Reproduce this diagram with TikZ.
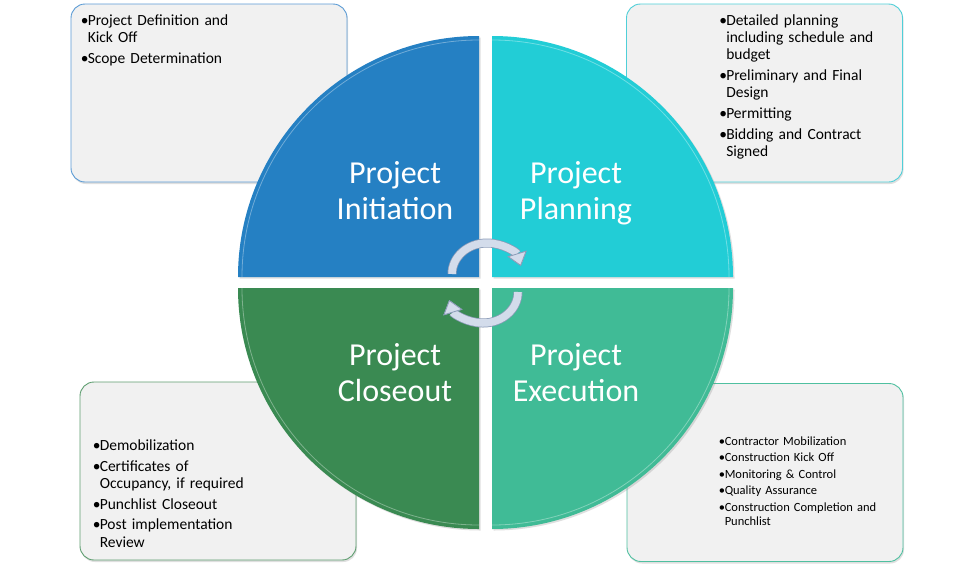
\documentclass[tikz,border=0pt]{standalone}
\usepackage{fontspec}
\setmainfont{Carlito}
\usepackage{tikz}
\usetikzlibrary{positioning,calc,arrows.meta,shadows}
\tikzset{>=stealth}

\definecolor{initblue}{HTML}{2580C3}
\definecolor{planteal}{HTML}{22CDD6}
\definecolor{closegreen}{HTML}{3A8A52}
\definecolor{execgreen}{HTML}{40BB96}
\definecolor{initedge}{HTML}{5B9BD5}
\definecolor{planedge}{HTML}{4FCFD8}
\definecolor{closeedge}{HTML}{5E9E70}
\definecolor{execedge}{HTML}{4FC0A0}
\definecolor{boxgray}{HTML}{F1F1F1}
\definecolor{arrowlight}{HTML}{D3DCEB}
\definecolor{arrowdark}{HTML}{8C9CB8}

\newcommand{\lstitem}[2][7pt]{\hangindent=#1\hangafter=1\noindent\makebox[#1][l]{\textbullet}#2\par}

\tikzset{
  listbox/.style={rounded corners=14pt,fill=boxgray,line width=.9pt,minimum width=276pt,minimum height=178pt,inner sep=0pt,drop shadow={opacity=.25,shadow xshift=1pt,shadow yshift=-2pt}},
  quarter/.style={drop shadow={opacity=.25,shadow xshift=1.5pt,shadow yshift=-1.5pt}},
  bevel/.style={white,opacity=.35,line width=.8pt},
  phase/.style={text=white,font=\fontsize{32}{36}\selectfont,text width=170pt,align=center,inner sep=0pt,anchor=base},
  tasks/.style={font=\fontsize{15.5}{17.2}\selectfont,text width=250pt,align=left,inner sep=0pt,execute at begin node=\setlength{\parskip}{3.5pt}},
  smalltasks/.style={tasks,font=\fontsize{12.5}{14}\selectfont,execute at begin node=\setlength{\parskip}{2.5pt}},
  cyclearrow/.style={line width=7.5pt,draw=arrowlight,preaction={draw=arrowdark,line width=9pt},-{Triangle[length=13pt,width=20pt,color=arrowdark,fill=arrowlight,line width=.8pt]}}
}

\begin{document}
\begin{tikzpicture}[x=1pt,y=1pt]
\path[use as bounding box,fill=white] (0,0) rectangle (971,-568);

\node[listbox,draw=initedge] (initbox) at (209,-93) {};
\node[listbox,draw=planedge] (planbox) at (764.5,-93) {};
\node[listbox,draw=closeedge] (closebox) at (218,-471) {};
\node[listbox,draw=execedge] (execbox) at (765,-472.5) {};

\node[tasks,below right=22pt and 10pt of initbox.north west,anchor=base west] (initlist)
  {\lstitem{Project Definition and\newline Kick Off}\lstitem{Scope Determination}};
\node[tasks,below right=22pt and 93pt of planbox.north west,anchor=base west] (planlist)
  {\lstitem{Detailed planning\newline including schedule and\newline budget}\lstitem{Preliminary and Final\newline Design}\lstitem{Permitting}\lstitem{Bidding and Contract\newline Signed}};
\node[tasks,below right=69pt and 13pt of closebox.north west,anchor=base west] (closelist)
  {\lstitem{Demobilization}\lstitem{Certificates of\newline Occupancy, if required}\lstitem{Punchlist Closeout}\lstitem{Post implementation\newline Review}};
\node[smalltasks,below right=62pt and 92pt of execbox.north west,anchor=base west] (execlist)
  {\lstitem[6pt]{Contractor Mobilization}\lstitem[6pt]{Construction Kick Off}\lstitem[6pt]{Monitoring \& Control}\lstitem[6pt]{Quality Assurance}\lstitem[6pt]{Construction Completion and\newline Punchlist}};

\coordinate (initC) at (479,-277);
\coordinate (planC) at (492,-277);
\coordinate (closeC) at (479,-288);
\coordinate (execC) at (492,-288);
\fill[initblue,quarter] (initC) -- ++(-241,0) arc[start angle=180,end angle=90,radius=241pt] -- cycle;
\fill[planteal,quarter] (planC) -- ++(0,241) arc[start angle=90,end angle=0,radius=241pt] -- cycle;
\fill[closegreen,quarter] (closeC) -- ++(-241,0) arc[start angle=180,end angle=270,radius=241pt] -- cycle;
\fill[execgreen,quarter] (execC) -- ++(241,0) arc[start angle=0,end angle=-90,radius=241pt] -- cycle;
\draw[bevel] ($(initC)+(-237,0)$) arc[start angle=180,end angle=90,radius=237pt];
\draw[bevel] ($(planC)+(0,237)$) arc[start angle=90,end angle=0,radius=237pt];
\draw[bevel] ($(closeC)+(-237,0)$) arc[start angle=180,end angle=270,radius=237pt];
\draw[bevel] ($(execC)+(237,0)$) arc[start angle=0,end angle=-90,radius=237pt];

\node[phase] (init) at (395,-183) {Project\\Initiation};
\node[phase] (plan) at (576,-183) {Project\\Planning};
\node[phase] (close) at (395,-365) {Project\\Closeout};
\node[phase] (exec) at (576,-365) {Project\\Execution};

\coordinate (turnA) at (487,-274);
\coordinate (turnB) at (483,-292);
\draw[cyclearrow] ($(turnA)+(-35,0)$) arc[start angle=180,end angle=15,x radius=35pt,y radius=31pt];
\draw[cyclearrow] ($(turnB)+(35,0)$) arc[start angle=0,end angle=-165,x radius=35pt,y radius=31pt];
\end{tikzpicture}
\end{document}
